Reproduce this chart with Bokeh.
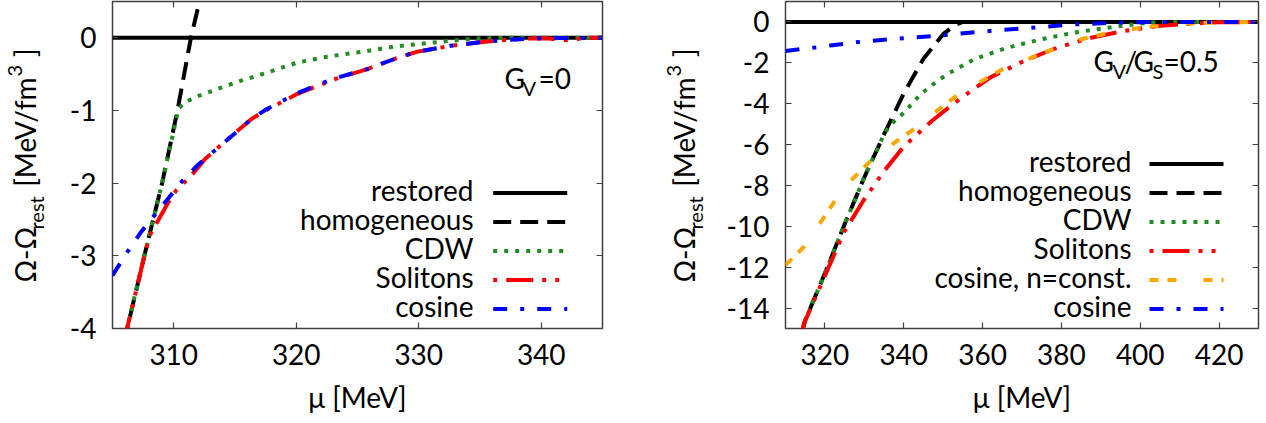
from math import pi
from bokeh.plotting import figure
from bokeh.models import (Range1d, FixedTicker, LinearAxis, Label, Arrow,
                          CustomLabelingPolicy)
from bokeh.layouts import row
from bokeh.embed import file_html
from bokeh.resources import INLINE

FONT = "Lato"

# ---------------- data: left panel (G_V = 0) ----------------
L_x_ticks = [310, 320, 330, 340]
L_x_labels = ["310", "320", "330", "340"]
L_y_ticks = [-4, -3, -2, -1, 0]
L_y_labels = ["-4", "-3", "-2", "-1", "0"]

L_rest_mu = [305.0, 345.0]
L_rest = [0.0, 0.0]

L_hom_mu = [305.9, 306.2, 307.6, 309.05, 310.3, 311.4, 312.1]
L_hom = [-4.2, -4.0, -3.0, -2.0, -1.0, 0.0, 0.5]

L_cdw_mu = [305.9, 307.6, 309.05, 310.4, 311.0, 312.0, 313.8, 315.5, 317.6, 320.1,
            322.5, 325.8, 328.0, 331.2, 334.5, 337.0, 345.0]
L_cdw = [-4.2, -3.0, -2.0, -0.97, -0.88, -0.80, -0.69, -0.59, -0.48, -0.34,
         -0.26, -0.18, -0.12, -0.064, -0.01, 0.0, 0.0]

L_sol_mu = [305.9, 307.0, 307.7, 308.1, 308.8, 309.5, 310.2, 311.3, 312.6, 314.5,
            316.4, 317.6, 320.1, 323.1, 325.8, 328.2, 329.9, 332.6, 334.8, 337.0,
            339.0, 340.5, 341.5, 342.5, 343.5, 345.0]
L_sol = [-4.2, -3.43, -2.93, -2.70, -2.49, -2.28, -2.10, -1.92, -1.66, -1.38,
         -1.11, -0.99, -0.77, -0.57, -0.43, -0.28, -0.19, -0.11, -0.065, -0.03,
         -0.01, -0.005, -0.03, -0.03, 0.0, 0.0]

L_cos_mu = [305.0, 306.2, 307.3, 308.4, 309.5, 310.7, 311.9, 313.2, 315.1, 316.4,
            317.6, 320.1, 323.1, 325.8, 328.2, 329.9, 332.6, 334.8, 337.0, 340.0, 345.0]
L_cos = [-3.27, -2.95, -2.68, -2.45, -2.22, -1.97, -1.76, -1.57, -1.30, -1.11,
         -0.98, -0.76, -0.56, -0.43, -0.28, -0.19, -0.11, -0.065, -0.03, -0.005, 0.0]

L_names = ["restored", "homogeneous", "CDW", "Solitons", "cosine"]

# ---------------- data: right panel (G_V/G_S = 0.5) ----------------
R_x_ticks = [320, 340, 360, 380, 400, 420]
R_x_labels = ["320", "340", "360", "380", "400", "420"]
R_y_ticks = [-14, -12, -10, -8, -6, -4, -2, 0]
R_y_labels = ["-14", "-12", "-10", "-8", "-6", "-4", "-2", "0"]

R_rest_mu = [310.0, 430.0]
R_rest = [0.0, 0.0]

R_hom_mu = [314.0, 315.0, 320.0, 325.0, 330.0, 335.0, 340.0, 345.0, 350.0, 353.0, 355.0, 430.0]
R_hom = [-15.3, -14.6, -12.3, -9.9, -7.6, -5.5, -3.5, -1.8, -0.6, -0.15, 0.0, 0.0]

R_cdw_mu = [314.0, 315.0, 320.0, 325.0, 330.0, 335.0, 336.5, 340.1, 344.3, 348.6,
            351.1, 357.9, 366.4, 374.9, 383.3, 391.8, 400.3, 405.0, 430.0]
R_cdw = [-15.3, -14.6, -12.3, -9.9, -7.6, -5.5, -5.05, -4.43, -3.53, -2.88,
         -2.55, -1.82, -1.25, -0.85, -0.52, -0.28, -0.08, 0.0, 0.0]

R_sol_mu = [314.2, 314.6, 318.0, 321.4, 324.8, 329.9, 335.0, 340.0, 344.5, 347.1,
            352.6, 356.9, 362.1, 370.6, 379.1, 387.5, 396.0, 404.5, 413.0, 420.0, 430.0]
R_sol = [-15.3, -14.8, -13.3, -11.8, -10.3, -8.7, -7.3, -6.1, -5.3, -4.85,
         -4.0, -3.4, -2.7, -1.9, -1.25, -0.77, -0.44, -0.2, -0.08, -0.02, 0.0]

R_cnc_mu = [310.0, 314.7, 319.8, 324.8, 331.6, 338.4, 342.2, 349.4, 352.8, 357.9,
            364.7, 374.9, 385.0, 391.8, 400.3, 408.8, 417.0, 430.0]
R_cnc = [-11.9, -11.0, -9.55, -8.1, -6.8, -5.8, -5.3, -4.2, -3.7, -3.1,
         -2.35, -1.55, -0.85, -0.55, -0.28, -0.11, -0.04, 0.0]

R_cos_mu = [310.0, 317.6, 321.4, 329.1, 338.4, 347.3, 358.0, 370.6, 383.3, 391.8, 400.0, 430.0]
R_cos = [-1.42, -1.25, -1.15, -0.97, -0.82, -0.70, -0.50, -0.31, -0.12, -0.05, -0.01, 0.0]

R_names = ["restored", "homogeneous", "CDW", "Solitons", "cosine, n=const.", "cosine"]

# ---------------- styles ----------------
STY = {
    "restored": dict(color="black", dash="solid", off=0),
    "homogeneous": dict(color="black", dash="18 9", off=0),
    "CDW": dict(color="#228B22", dash="4 7", off=0),
    "Solitons": dict(color="#FF0000", dash="27 9 4 9 4 9", off=49),
    "cosine, n=const.": dict(color="#FFA500", dash="9 9 9 27", off=0),
    "cosine": dict(color="#0000FF", dash="14 13 4 13", off=0),
}
FRAME_BOTTOM = 328
FS = 28
FS_SMALL = 20
BASE_CORR = 0.46  # shift of the rendered alphabetic baseline, in em


def make_fig(width, xr, yr, bl, br, xt, xl, yt, yl):
    p = figure(width=width, height=423, x_range=Range1d(*xr), y_range=Range1d(*yr),
               output_backend="svg", toolbar_location=None,
               min_border_left=bl, min_border_right=br,
               min_border_top=1, min_border_bottom=423 - FRAME_BOTTOM)
    p.grid.visible = False
    p.outline_line_color = "#404040"
    p.outline_line_width = 1.5
    p.background_fill_color = "white"
    p.border_fill_color = "white"

    xa = p.xaxis[0]
    xa.ticker = FixedTicker(ticks=xt)
    xa.major_label_overrides = {float(t): s for t, s in zip(xt, xl)}
    ya = p.yaxis[0]
    ya.ticker = FixedTicker(ticks=yt)
    ya.major_label_overrides = {float(t): s for t, s in zip(yt, yl)}
    for ax in (xa, ya):
        ax.major_tick_in = 6
        ax.major_tick_out = 0
        ax.minor_tick_line_color = None
        ax.axis_line_color = None
        ax.major_tick_line_color = "#404040"
        ax.major_tick_line_width = 1.2
        ax.major_label_text_font = FONT
        ax.major_label_text_font_size = f"{FS}px"
        ax.major_label_text_color = "black"
    xa.major_label_standoff = 15
    ya.major_label_standoff = 16
    xa.axis_label = "\u03bc [MeV]"
    xa.axis_label_text_font = FONT
    xa.axis_label_text_font_size = f"{FS}px"
    xa.axis_label_text_font_style = "normal"
    xa.axis_label_text_color = "black"
    xa.axis_label_standoff = 12

    for place, ticks in (("above", xt), ("right", yt)):
        ax = LinearAxis(ticker=FixedTicker(ticks=ticks), major_tick_in=6, major_tick_out=0,
                        minor_tick_line_color=None, axis_line_color=None,
                        major_tick_line_color="#404040", major_tick_line_width=1.2,
                        major_label_text_font_size="0px", major_label_standoff=0,
                        major_label_policy=CustomLabelingPolicy(code="return []"))
        p.add_layout(ax, place)
    return p


def add_label(p, fleft, fbottom, text, cx, cy, size=FS, align="left", angle=0.0):
    corr = BASE_CORR * size
    if angle == 0.0:
        sx, sy = cx - fleft, fbottom - (cy - corr)
    else:
        sx, sy = (cx - corr) - fleft, fbottom - cy
    p.add_layout(Label(x=sx, y=sy, x_units="screen", y_units="screen",
                       text=text, text_font=FONT, text_font_size=f"{size}px",
                       text_align=align, text_baseline="alphabetic", angle=angle,
                       text_color="black"))


def ylabel_fig(width, fleft, base):
    # frames in the row are aligned with the neighbouring plot (bottom at FRAME_BOTTOM)
    f = figure(width=width, height=423, x_range=Range1d(0, 1), y_range=Range1d(0, 1),
               x_axis_type=None, y_axis_type=None, output_backend="svg",
               toolbar_location=None, min_border=0, outline_line_color=None)
    f.grid.visible = False
    a = pi / 2
    fb = FRAME_BOTTOM
    add_label(f, fleft, fb, "\u03a9-\u03a9", base, 282, FS, "left", a)
    add_label(f, fleft, fb, "rest", base + 8, 229, FS_SMALL, "left", a)
    add_label(f, fleft, fb, "[MeV/fm", base, 77, FS, "right", a)
    add_label(f, fleft, fb, "3", base - 13, 76, FS_SMALL, "left", a)
    add_label(f, fleft, fb, "]", base, 48, FS, "right", a)
    return f


def add_curves(p, names, series, key_x0, text_right, centers, fleft):
    for name, (xs, ys) in zip(names, series):
        s = STY[name]
        p.line(xs, ys, line_color=s["color"], line_width=4, line_dash=s["dash"])
    for name, c in zip(names, centers):
        s = STY[name]
        p.add_layout(Arrow(end=None, start=None,
                           x_start=key_x0 - fleft, y_start=FRAME_BOTTOM - c,
                           x_end=key_x0 + 74 - fleft, y_end=FRAME_BOTTOM - c,
                           start_units="screen", end_units="screen",
                           line_color=s["color"], line_width=4, line_dash=s["dash"],
                           line_dash_offset=s["off"]))
        add_label(p, fleft, FRAME_BOTTOM, name, text_right, c + 10, FS, "right")


# ---------------- left figure ----------------
L_FL = 112
yl1 = ylabel_fig(56, 0, 37)
p1 = make_fig(584, (305, 345), (-4, 0.5), L_FL - 56, 38, L_x_ticks, L_x_labels, L_y_ticks, L_y_labels)
add_curves(p1, L_names,
           [(L_rest_mu, L_rest), (L_hom_mu, L_hom), (L_cdw_mu, L_cdw),
            (L_sol_mu, L_sol), (L_cos_mu, L_cos)],
           492.7, 473, [192.5, 221.5, 250.5, 279.5, 308.5], L_FL)
add_label(p1, L_FL, FRAME_BOTTOM, "G", 504, 90)
add_label(p1, L_FL, FRAME_BOTTOM, "V", 522, 97, FS_SMALL)
add_label(p1, L_FL, FRAME_BOTTOM, "=0", 538, 90)

# ---------------- right figure ----------------
R_FL = 785
yl2 = ylabel_fig(76, 640, 696)
p2 = make_fig(550, (310, 430), (-15, 1), R_FL - 716, 8, R_x_ticks, R_x_labels, R_y_ticks, R_y_labels)
add_curves(p2, R_names,
           [(R_rest_mu, R_rest), (R_hom_mu, R_hom), (R_cdw_mu, R_cdw),
            (R_sol_mu, R_sol), (R_cnc_mu, R_cnc), (R_cos_mu, R_cos)],
           1149, 1131, [163.5, 192.5, 221.5, 250.5, 279.5, 308.5], R_FL)
add_label(p2, R_FL, FRAME_BOTTOM, "G", 1093, 73)
add_label(p2, R_FL, FRAME_BOTTOM, "V", 1112, 80, FS_SMALL)
add_label(p2, R_FL, FRAME_BOTTOM, "/", 1124, 73)
add_label(p2, R_FL, FRAME_BOTTOM, "G", 1133, 73)
add_label(p2, R_FL, FRAME_BOTTOM, "S", 1152, 80, FS_SMALL)
add_label(p2, R_FL, FRAME_BOTTOM, "=0.5", 1163, 73)

layout = row(yl1, p1, yl2, p2)
open("out.html", "w").write(file_html(layout, INLINE, "chart"))
